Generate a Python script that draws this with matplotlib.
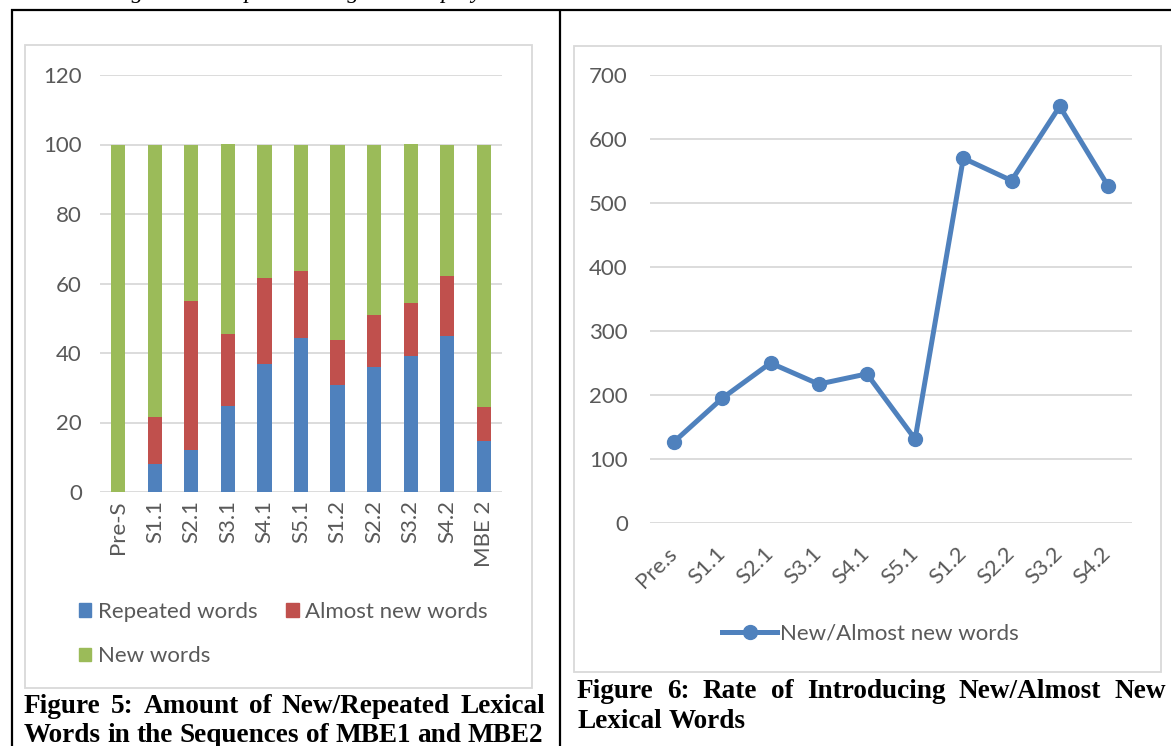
import matplotlib
matplotlib.use("Agg")
import matplotlib.pyplot as plt
from matplotlib.lines import Line2D
from matplotlib.patches import Rectangle, Patch
from matplotlib.transforms import ScaledTranslation

# ---- data -------------------------------------------------------------
seq_labels = ["Pre-S", "S1.1", "S2.1", "S3.1", "S4.1", "S5.1",
              "S1.2", "S2.2", "S3.2", "S4.2", "MBE 2"]
repeated_words = [0, 8.0, 12.0, 24.7, 36.9, 44.2, 30.8, 35.9, 39.0, 44.9, 14.6]
almost_new_words = [0, 13.5, 43.0, 20.8, 24.7, 19.5, 12.8, 15.0, 15.5, 17.3, 9.8]
new_words = [100, 78.5, 45.0, 54.5, 38.4, 36.3, 56.4, 49.1, 45.5, 37.8, 75.6]

rate_labels = ["Pre.s", "S1.1", "S2.1", "S3.1", "S4.1", "S5.1",
               "S1.2", "S2.2", "S3.2", "S4.2"]
rate_values = [127, 195, 250, 217, 233, 131, 570, 535, 651, 527]

bar_ticks = [0, 20, 40, 60, 80, 100, 120]
line_ticks = [0, 100, 200, 300, 400, 500, 600, 700]

# ---- styling ----------------------------------------------------------
W, H = 1171, 746
BLUE, RED, GREEN = "#4f81bd", "#c0504d", "#9bbb59"
GRID = "#d9d9d9"
TXT = "#595959"
CHART_FONT = "Lato"
SERIF = "Liberation Serif"
FS = 16          # chart text size (pt)
CAP_FS = 19.6    # caption size (pt)

fig = plt.figure(figsize=(W / 100, H / 100), dpi=100)
fig.patch.set_facecolor("white")


def fx(x):
    return x / W


def fy(y):
    return 1 - y / H


def axes_px(x0, y0, x1, y1):
    return fig.add_axes([fx(x0), fy(y1), (x1 - x0) / W, (y1 - y0) / H])


# ---- page elements: running text and table rules ----------------------
fig.text(fx(3), fy(-2), "obtained using Neat Comparator. Figure 6 displays the results.",
         family=SERIF, style="italic", fontsize=17, va="baseline", ha="left")

rule_kw = dict(color="black", lw=1.6, transform=fig.transFigure, solid_capstyle="butt")
fig.add_artist(Line2D([fx(11), 1], [fy(9.5), fy(9.5)], **rule_kw))
fig.add_artist(Line2D([fx(11.5), fx(11.5)], [fy(9), 0], **rule_kw))
fig.add_artist(Line2D([fx(560), fx(560)], [fy(9), 0], **rule_kw))

# chart frames
for (x0, y0, x1, y1) in [(25, 45, 532, 688), (574, 46, 1161, 672)]:
    fig.add_artist(Rectangle((fx(x0), fy(y1)), (x1 - x0) / W, (y1 - y0) / H,
                             transform=fig.transFigure, fill=False,
                             edgecolor=GRID, lw=1.3))

# ---- stacked bar chart ------------------------------------------------
ax1 = axes_px(100, 75, 502, 492)
xs = list(range(len(seq_labels)))
bottom2 = [r for r in repeated_words]
bottom3 = [r + a for r, a in zip(repeated_words, almost_new_words)]
width = 0.39
ax1.bar(xs, repeated_words, width, color=BLUE, label="Repeated words", zorder=3)
ax1.bar(xs, almost_new_words, width, bottom=bottom2, color=RED,
        label="Almost new words", zorder=3)
ax1.bar(xs, new_words, width, bottom=bottom3, color=GREEN,
        label="New words", zorder=3)
ax1.set_xlim(-0.5, len(seq_labels) - 0.5)
ax1.set_ylim(0, 120)
ax1.set_yticks(bar_ticks)
ax1.set_xticks(xs)
ax1.set_xticklabels(seq_labels, rotation=90, family=CHART_FONT, fontsize=FS, color=TXT)
for lbl in ax1.get_yticklabels():
    lbl.set_family(CHART_FONT)
ax1.tick_params(axis="y", length=0, pad=13, labelsize=FS, labelcolor=TXT)
ax1.tick_params(axis="x", length=0, pad=6)
ax1.yaxis.grid(True, color=GRID, lw=1.3, zorder=0)
for s in ax1.spines.values():
    s.set_visible(False)
ax1.set_facecolor("none")

handles = [Patch(color=BLUE), Patch(color=GREEN), Patch(color=RED)]
names = ["Repeated words", "New words", "Almost new words"]
fig.legend(handles, names, ncol=2, loc="upper left",
           bbox_to_anchor=(fx(70), fy(593)), frameon=False,
           prop={"family": CHART_FONT, "size": FS}, labelcolor=TXT,
           handlelength=0.55, handleheight=0.55, handletextpad=0.3,
           columnspacing=1.3, labelspacing=1.1, borderaxespad=0)

# ---- line chart -------------------------------------------------------
ax2 = axes_px(650, 75, 1132, 523)
xr = list(range(len(rate_labels)))
ln, = ax2.plot(xr, rate_values, color=BLUE, lw=3.6, marker="o", markersize=10,
               label="New/Almost new words", zorder=3)
ax2.set_xlim(-0.5, len(rate_labels) - 0.5)
ax2.set_ylim(0, 700)
ax2.set_yticks(line_ticks)
ax2.set_xticks(xr)
ax2.set_xticklabels(rate_labels, rotation=45, ha="right", va="center",
                    rotation_mode="anchor", family=CHART_FONT, fontsize=FS, color=TXT)
offset = ScaledTranslation(12 / 100, 0, fig.dpi_scale_trans)
for lbl in ax2.get_xticklabels():
    lbl.set_transform(lbl.get_transform() + offset)
for lbl in ax2.get_yticklabels():
    lbl.set_family(CHART_FONT)
ax2.tick_params(axis="y", length=0, pad=16, labelsize=FS, labelcolor=TXT)
ax2.tick_params(axis="x", length=0, pad=20)
ax2.yaxis.grid(True, color=GRID, lw=1.3, zorder=0)
for s in ax2.spines.values():
    s.set_visible(False)
ax2.set_facecolor("none")

fig.legend([ln], ["New/Almost new words"], loc="center",
           bbox_to_anchor=(fx(870), fy(634)), frameon=False,
           prop={"family": CHART_FONT, "size": FS}, labelcolor=TXT,
           handlelength=2.5, handletextpad=0.1, borderaxespad=0)

# ---- justified captions -----------------------------------------------
renderer = fig.canvas.get_renderer()


def caption_line(text, x0, x1, y, justify=True):
    words = text.split()
    items = [fig.text(0, 0, w, family=SERIF, weight="bold", fontsize=CAP_FS,
                      va="baseline", ha="left") for w in words]
    widths = [t.get_window_extent(renderer).width for t in items]
    if justify and len(words) > 1:
        gap = (x1 - x0 - sum(widths)) / (len(words) - 1)
    else:
        gap = 0.25 * CAP_FS * 100 / 72
    x = x0
    for t, w in zip(items, widths):
        t.set_position((fx(x), fy(y)))
        x += w + gap


caption_line("Figure 5: Amount of New/Repeated Lexical", 24, 545, 713)
caption_line("Words in the Sequences of MBE1 and MBE2", 24, 543, 742)
caption_line("Figure 6: Rate of Introducing New/Almost New", 577, 1166, 698)
caption_line("Lexical Words", 577, 1166, 728, justify=False)

fig.savefig("out.png", dpi=100)
